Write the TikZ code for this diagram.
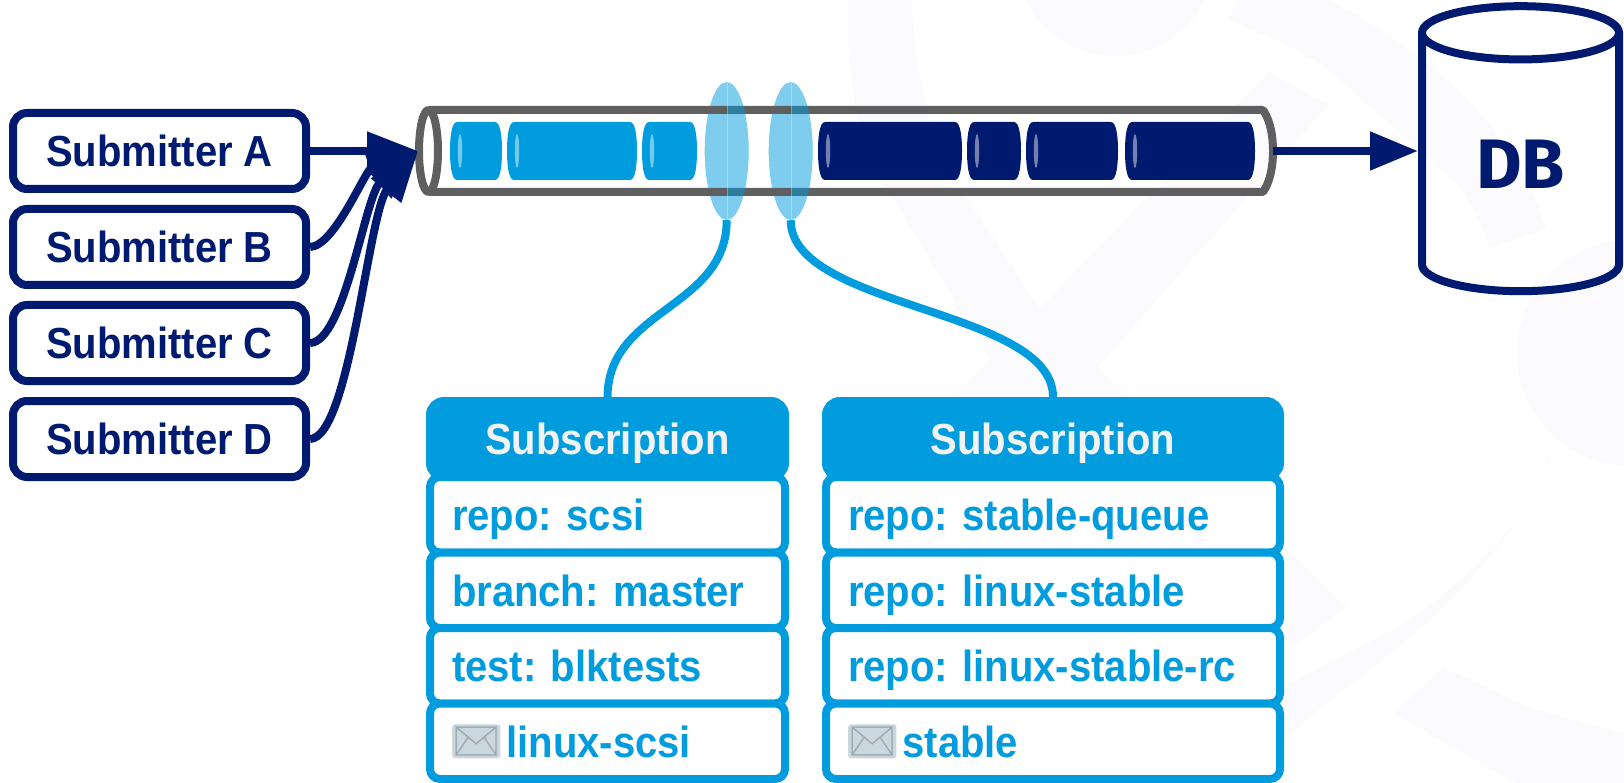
\documentclass[tikz,border=0pt]{standalone}
\usepackage{fontspec}
\setmainfont{Liberation Sans}[FakeStretch=0.92]
\newfontfamily\dbfont{Fira Sans}
\newfontfamily\emojifont{Noto Emoji}
\usetikzlibrary{positioning,arrows.meta,shapes.geometric}
\definecolor{navy}{HTML}{001A70}
\definecolor{subblue}{HTML}{009CDE}
\definecolor{tubegray}{HTML}{5F5F5F}
\definecolor{logotint}{HTML}{FBFBFE}
\definecolor{mailfill}{HTML}{CCD6DD}
\definecolor{mailline}{HTML}{99AAB5}
\frenchspacing

\begin{document}
\begin{tikzpicture}[x=1pt,y=-1pt]
	\tikzset{submitter/.style={draw=navy,
				line width=8pt,
				rectangle,
				rounded corners=14pt,
				inner sep=0pt,
				minimum width=293pt,
				minimum height=76pt,
				text=navy,
				text height=38pt,
				text depth=7pt,
				font=\fontsize{43.5}{50}\selectfont\bfseries},
			subhead/.style={draw=subblue,
				fill=subblue,
				line width=8pt,
				rounded corners=14pt,
				inner sep=0pt,
				minimum height=76pt,
				text=white!95!black,
				text height=37pt,
				text depth=7pt,
				align=center,
				font=\fontsize{43.5}{50}\selectfont\bfseries},
			subrow/.style={draw=subblue,
				fill=white,
				line width=8pt,
				rounded corners=10pt,
				inner xsep=22pt,
				inner ysep=0pt,
				minimum height=75.5pt,
				text=subblue,
				text height=39pt,
				text depth=7.5pt,
				align=left,
				font=\fontsize{43.5}{50}\selectfont\bfseries},
			mailicon/.style={fill=mailfill,
				rounded corners=3pt,
				inner sep=0pt,
				minimum width=46pt,
				minimum height=34pt,
				text=mailline,
				font=\emojifont\fontsize{38}{38}\selectfont},
			tube/.style={draw=tubegray,
				line width=8pt,
				line join=round},
			dbase/.style={draw=navy,
				line width=8pt,
				cylinder,
				shape border rotate=90,
				shape aspect=0.6,
				inner sep=0pt,
				minimum width=197pt,
				minimum height=285pt,
				text=navy,
				font=\dbfont\fontsize{70}{70}\selectfont\bfseries},
			cursor/.style={ellipse,
				fill=subblue,
				opacity=0.5,
				inner sep=0pt,
				minimum width=44pt,
				minimum height=138pt},
			arrow/.style={-{Triangle[length=51pt,width=37pt]},
				draw=navy,
				line width=8pt},
			subline/.style={draw=subblue,
				line width=8pt},
			logotint/.style={fill=logotint,draw=none}}
	\useasboundingbox (0,0) rectangle (1624,783);

	% Background logo
	\fill[logotint] (1115,-44) circle (100);
	\fill[logotint] (1630,353) circle (113);
	\fill[logotint] (848,-5) .. controls (845,80) and (860,160) .. (897,205) -- (1002,380) -- (1293,647) -- (1347,607) -- (1046,318) -- (938,154) .. controls (925,100) and (912,50) .. (912,-5) -- cycle;
	\fill[logotint] (1269,72) -- (1328,105) -- (1092,374) -- (1000,470) -- (950,400) -- cycle;
	\draw[logotint,draw=logotint,line width=60pt] (1240,-8) .. controls (1370,45) and (1480,120) .. (1518,238);
	\fill[logotint] (1550,452) .. controls (1530,520) and (1470,580) .. (1397,627) -- (1283,687) -- (1283,740) -- (1347,687) .. controls (1400,650) and (1510,560) .. (1550,457) -- cycle;
	\fill[logotint] (1393,713) -- (1443,667) -- (1530,708) -- (1624,733) -- (1624,783) -- (1515,783) -- cycle;

	% Queue
	\coordinate (queuein) at (418,151);
	\coordinate (queueout) at (1273,151);
	\draw[tube] (428.5,151) ellipse (9.5 and 41);
	\draw[tube] (428.5,110) -- (1263,110) .. controls (1270,120) and (1273,135) .. (queueout) .. controls (1273,167) and (1270,182) .. (1263,192) -- (428.5,192);
	\foreach \xleft/\xwid/\col/\lens in {450/52/subblue/0.45,507/130/subblue/0.45,642/55/subblue/0.45,818/144/navy/0.45,967/54/navy/0.45,1026/92/navy/0.45,1125/130/navy/0.45} {
		\fill[\col] (\xleft+7,122) -- (\xleft+\xwid-7,122) .. controls (\xleft+\xwid-1,122) and (\xleft+\xwid,140) .. (\xleft+\xwid,151) .. controls (\xleft+\xwid,162) and (\xleft+\xwid-1,180) .. (\xleft+\xwid-7,180) -- (\xleft+7,180) .. controls (\xleft+1,180) and (\xleft,162) .. (\xleft,151) .. controls (\xleft,140) and (\xleft+1,122) .. (\xleft+7,122) -- cycle;
		\fill[white,opacity=\lens] (\xleft+10,151) ellipse (2.2 and 17);
	}

	% Cursors
	\node[cursor] (cursorscsi) at (726.7,151) {};
	\node[cursor] (cursorstable) at (790.7,151) {};
	\draw[tube] (cursorscsi.west |- 0,110) -- (cursorscsi.center |- 0,110);
	\draw[tube] (cursorscsi.west |- 0,192) -- (cursorscsi.center |- 0,192);
	\draw[tube] (cursorstable.west |- 0,110) -- (cursorstable.center |- 0,110);
	\draw[tube] (cursorstable.west |- 0,192) -- (cursorstable.center |- 0,192);
	\draw[white,opacity=0.3] (cursorscsi.north) -- (cursorscsi.south);
	\draw[white,opacity=0.3] (cursorstable.north) -- (cursorstable.south);

	% Submitters
	\node[submitter] (suba) at (159.5,151) {Submitter A};
	\node[submitter, below=12pt of suba] (subb) {Submitter B};
	\node[submitter, below=12pt of subb] (subc) {Submitter C};
	\node[submitter, below=12pt of subc] (subd) {Submitter D};

	% Database
	\node[dbase] (db) at (1520.5,164) {DB};

	% Subscriptions
	\node[subhead, anchor=north west, minimum width=355pt] (headscsi) at (426,397) {Subscription};
	\node[subrow, below=-8pt of headscsi, text width=311pt] (reposcsi) {repo: scsi};
	\node[subrow, below=-8pt of reposcsi, text width=311pt] (branchscsi) {branch: master};
	\node[subrow, below=-8pt of branchscsi, text width=311pt] (testscsi) {test: blktests};
	\node[subrow, below=-8pt of testscsi, text width=311pt] (mailscsi) {\hspace*{54.5pt}linux-scsi};
	\node[mailicon, right=26pt of mailscsi.west] (iconscsi) {✉};

	\node[subhead, anchor=north west, minimum width=454pt] (headstable) at (822,397) {Subscription};
	\node[subrow, below=-8pt of headstable, text width=410pt] (repoqueue) {repo: stable-queue};
	\node[subrow, below=-8pt of repoqueue, text width=410pt] (repolinux) {repo: linux-stable};
	\node[subrow, below=-8pt of repolinux, text width=410pt] (reporc) {repo: linux-stable-rc};
	\node[subrow, below=-8pt of reporc, text width=410pt] (mailstable) {\hspace*{54.5pt}stable};
	\node[mailicon, right=26pt of mailstable.west] (iconstable) {✉};

	% Arrows
	\draw[arrow] (subd.east) .. controls (350,438) and (368,213) .. (queuein);
	\draw[arrow] (subc.east) .. controls (345,342) and (365,195) .. (queuein);
	\draw[arrow] (subb.east) .. controls (335,246) and (365,170) .. (queuein);
	\draw[arrow] (suba.east) -- (queuein);
	\draw[arrow, -{Triangle[length=48pt,width=37pt]}] (queueout) -- (queueout -| db.west);
	\draw[subline] (cursorscsi.south) .. controls (726.7,308.5) and (608,308.5) .. (headscsi.north);
	\draw[subline] (cursorstable.south) .. controls (790.7,308.5) and (1053,308.5) .. (headstable.north);
\end{tikzpicture}
\end{document}
